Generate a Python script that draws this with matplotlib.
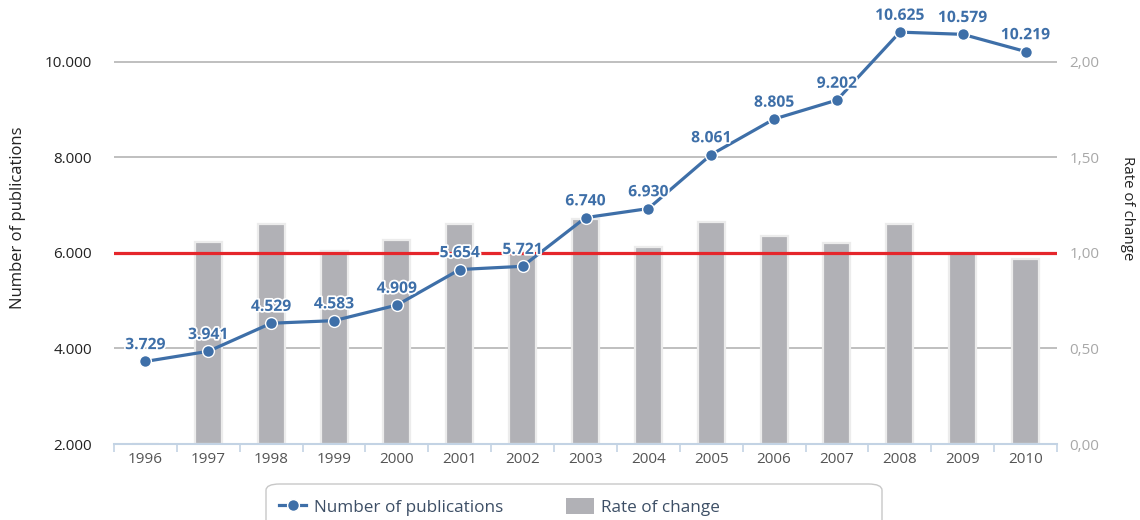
import matplotlib
matplotlib.use("Agg")
import matplotlib.pyplot as plt
import matplotlib.patheffects as pe
from matplotlib.lines import Line2D
from matplotlib.patches import Patch, FancyBboxPatch
import numpy as np

plt.rcParams['font.family'] = ['Open Sans', 'DejaVu Sans']

years = ['1996', '1997', '1998', '1999', '2000', '2001', '2002', '2003',
         '2004', '2005', '2006', '2007', '2008', '2009', '2010']
publications = [3729, 3941, 4529, 4583, 4909, 5654, 5721, 6740,
                6930, 8061, 8805, 9202, 10625, 10579, 10219]
rate_of_change = [0.0, 1.06, 1.15, 1.01, 1.07, 1.15, 1.01, 1.18,
                  1.03, 1.16, 1.09, 1.05, 1.15, 1.00, 0.97]
left_ticks = [2000, 4000, 6000, 8000, 10000]
left_tick_labels = ['2.000', '4.000', '6.000', '8.000', '10.000']
right_ticks = [0.0, 0.5, 1.0, 1.5, 2.0]
right_tick_labels = ['0,00', '0,50', '1,00', '1,50', '2,00']

LINE_C = '#3e6fa8'
BAR_C = '#b1b1b6'
GRID_C = '#b4b4b4'
RED_C = '#e5262b'
AXIS_C = '#c3d3e4'

W, H = 1140, 520
fig = plt.figure(figsize=(W / 100, H / 100), dpi=100)
rect = [114 / W, 1 - 444 / H, (1057 - 114) / W, (444 - 19) / H]
ax2 = fig.add_axes(rect)          # rate axis (bars, right)
ax = fig.add_axes(rect, sharex=ax2)  # publications axis (line, left)
ax.set_zorder(ax2.get_zorder() + 1)
ax.patch.set_visible(False)

x = np.arange(len(years))

# ---- rate axis (bars) ----
ax2.set_xlim(-0.5, len(years) - 0.5)
ax2.set_ylim(0, 2.225)
for yv in right_ticks[1:]:
    if yv == 1.0:
        continue
    ax2.axhline(yv, color=GRID_C, lw=1.2, zorder=0)
ax2.bar(x, rate_of_change, width=0.43, color=BAR_C, edgecolor='#ececec',
        linewidth=1.6, zorder=2)
ax2.axhline(1.0, color=RED_C, lw=2.3, zorder=3)
ax2.yaxis.tick_right()
ax2.set_yticks(right_ticks)
ax2.set_yticklabels(right_tick_labels)
ax2.tick_params(axis='y', length=0, pad=9, labelsize=11, labelcolor='#a8a8a8')
for s in ['top', 'left', 'right']:
    ax2.spines[s].set_visible(False)
ax2.spines['bottom'].set_color(AXIS_C)
ax2.spines['bottom'].set_linewidth(1.5)
ax2.set_xticks(x)
ax2.set_xticklabels(years)
ax2.set_xticks(np.arange(-0.5, len(years) + 0.5, 1), minor=True)
ax2.tick_params(axis='x', which='major', length=0, pad=6, labelsize=11,
                labelcolor='#555555')
ax2.tick_params(axis='x', which='minor', length=6, width=1.2, color=AXIS_C,
                direction='out')

# ---- publications axis (line) ----
ax.set_ylim(2000, 10900)
ax.plot(x, publications, color=LINE_C, lw=2.3, marker='o', markersize=8.5,
        markerfacecolor=LINE_C, markeredgecolor='white', markeredgewidth=1.0,
        zorder=5)
for xi, v in zip(x, publications):
    lbl = f"{v:,}".replace(',', '.')
    ax.annotate(lbl, (xi, v), xytext=(0, 6), textcoords='offset points',
                ha='center', va='bottom', fontsize=11.3, fontweight='bold',
                color=LINE_C, zorder=6,
                path_effects=[pe.withStroke(linewidth=2.5, foreground='white')])
ax.set_yticks(left_ticks)
ax.set_yticklabels(left_tick_labels)
ax.tick_params(axis='y', length=0, pad=16, labelsize=11, labelcolor='#222222')
ax.tick_params(axis='x', which='both', length=0, labelbottom=False)
for s in ['top', 'right', 'left', 'bottom']:
    ax.spines[s].set_visible(False)

# ---- axis titles ----
fig.text(18 / W, 1 - 218 / H, 'Number of publications', rotation=90,
         ha='center', va='center', fontsize=12, color='#222222')
fig.text(1128 / W, 1 - 208 / H, 'Rate of change', rotation=270,
         ha='center', va='center', fontsize=10.8, color='#222222')

# ---- legend ----
frame = FancyBboxPatch((266 / W, -0.05), (882 - 266) / W, (1 - 484 / H) + 0.05,
                       boxstyle='round,pad=0,rounding_size=0.012',
                       transform=fig.transFigure, facecolor='white',
                       edgecolor='#c8c8c8', linewidth=1.0, zorder=1)
fig.patches.append(frame)
handles = [Line2D([0], [0], color=LINE_C, lw=2.3, marker='o', markersize=8.5,
                  markerfacecolor=LINE_C, markeredgecolor='white'),
           Patch(facecolor=BAR_C, edgecolor='none')]
leg = fig.legend(handles, ['Number of publications', 'Rate of change'],
                 loc='center left', bbox_to_anchor=(272 / W, 1 - 507 / H),
                 ncol=2, frameon=False, fontsize=12.3,
                 handlelength=1.6, handleheight=1.0, columnspacing=3.7,
                 handletextpad=0.45, labelcolor='#3d4f66', borderaxespad=0)

fig.savefig('out.png', dpi=100)
